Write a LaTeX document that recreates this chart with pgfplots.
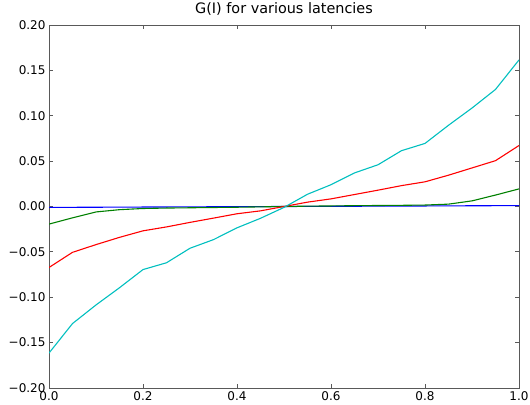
\documentclass[border=0pt]{standalone}
\usepackage{fontspec}
\setmainfont{DejaVu Sans}
\usepackage{pgfplots}
\pgfplotsset{compat=1.18}
\definecolor{mcyan}{rgb}{0,0.75,0.75}
\definecolor{mgreen}{rgb}{0,0.5,0}
\definecolor{axgray}{rgb}{0.35,0.35,0.35}
\begin{document}
\begin{tikzpicture}
\useasboundingbox (0,0) rectangle (530bp,405bp);
\begin{axis}[
  at={(49bp,17bp)}, anchor=south west,
  scale only axis, width=470bp, height=363bp,
  xmin=0, xmax=1, ymin=-0.2, ymax=0.2,
  xtick={0,0.2,0.4,0.6,0.8,1.0},
  xticklabels={0.0,0.2,0.4,0.6,0.8,1.0},
  ytick={-0.2,-0.15,-0.1,-0.05,0,0.05,0.1,0.15,0.2},
  yticklabels={−0.20,−0.15,−0.10,−0.05,0.00,0.05,0.10,0.15,0.20},
  tick align=inside, tick pos=both,
  major tick length=4bp,
  axis line style={axgray, line width=1bp},
  every tick/.style={axgray, line width=0.8bp},
  tick label style={font=\fontsize{12bp}{14bp}\selectfont, text=black},
  title={G(I) for various latencies},
  title style={font=\fontsize{14.4bp}{17bp}\selectfont, at={(0.5,1)}, anchor=south, yshift=0bp},
  every axis plot/.append style={line width=1.1bp},
]
\addplot[blue] coordinates {
(0,-0.0010) (0.05,-0.0009) (0.1,-0.0008) (0.15,-0.0007) (0.2,-0.0006) (0.25,-0.0005)
(0.3,-0.0004) (0.35,-0.0003) (0.4,-0.0002) (0.45,-0.0001) (0.5,0) (0.55,0.0001)
(0.6,0.0002) (0.65,0.0003) (0.7,0.0004) (0.75,0.0005) (0.8,0.0006) (0.85,0.0007)
(0.9,0.0008) (0.95,0.0009) (1.0,0.0010)};
\addplot[mgreen] coordinates {
(0,-0.0194) (0.05,-0.0125) (0.1,-0.0060) (0.15,-0.0035) (0.2,-0.0022) (0.25,-0.0017)
(0.3,-0.0014) (0.35,-0.0011) (0.4,-0.0008) (0.45,-0.0004) (0.5,0) (0.55,0.0004)
(0.6,0.0006) (0.65,0.0009) (0.7,0.0011) (0.75,0.0013) (0.8,0.0016) (0.85,0.0026)
(0.9,0.0062) (0.95,0.0126) (1.0,0.0194)};
\addplot[red] coordinates {
(0,-0.0672) (0.05,-0.0505) (0.1,-0.0420) (0.15,-0.0340) (0.2,-0.0268) (0.25,-0.0225)
(0.3,-0.0175) (0.35,-0.0128) (0.4,-0.0080) (0.45,-0.0048) (0.5,0) (0.55,0.0048)
(0.6,0.0084) (0.65,0.0132) (0.7,0.0180) (0.75,0.0230) (0.8,0.0272) (0.85,0.0345)
(0.9,0.0425) (0.95,0.0505) (1.0,0.0672)};
\addplot[mcyan] coordinates {
(0,-0.1615) (0.05,-0.1290) (0.1,-0.1085) (0.15,-0.0895) (0.2,-0.0695) (0.25,-0.0620)
(0.3,-0.0460) (0.35,-0.0365) (0.4,-0.0235) (0.45,-0.0130) (0.5,-0.0010) (0.55,0.0135)
(0.6,0.0240) (0.65,0.0370) (0.7,0.0460) (0.75,0.0615) (0.8,0.0695) (0.85,0.0895)
(0.9,0.1085) (0.95,0.1290) (1.0,0.1615)};
\end{axis}
\end{tikzpicture}
\end{document}
